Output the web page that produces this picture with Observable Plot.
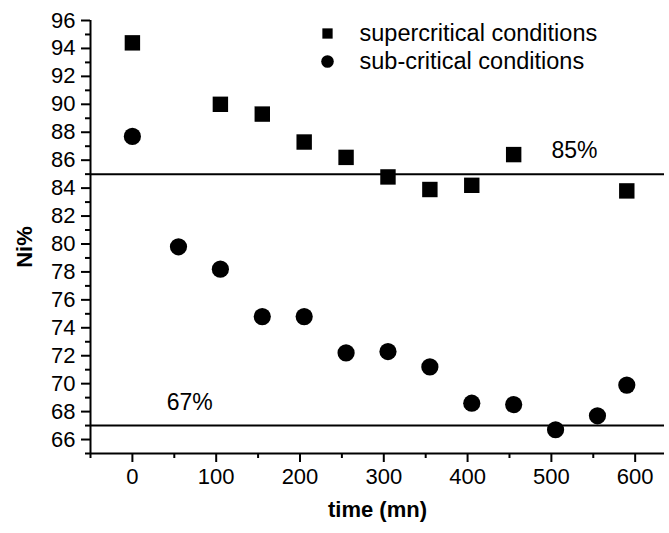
<!DOCTYPE html>
<html><head><meta charset="utf-8">
<script src="https://cdn.jsdelivr.net/npm/d3@7"></script>
<script src="https://cdn.jsdelivr.net/npm/@observablehq/plot@0.6"></script>
<style>body{margin:0;background:#fff}</style>
</head><body><div id="chart"></div>
<script>
const timeSuper = [0, 105, 155, 205, 255, 305, 355, 405, 455, 590];
const niSuper   = [94.4, 90.0, 89.3, 87.3, 86.2, 84.8, 83.9, 84.2, 86.4, 83.8];
const timeSub = [0, 55, 105, 155, 205, 255, 305, 355, 405, 455, 505, 555, 590];
const niSub   = [87.7, 79.8, 78.2, 74.8, 74.8, 72.2, 72.3, 71.2, 68.6, 68.5, 66.7, 67.7, 69.9];
const refLevels = [85, 67];
const refLabels = ["85%", "67%"];
const refLabelTime = [500, 41];
const seriesNames = ["supercritical conditions", "sub-critical conditions"];
const xMajor = [0, 100, 200, 300, 400, 500, 600];
const xMinor = [-50, 50, 150, 250, 350, 450, 550];
const yMajor = [66, 68, 70, 72, 74, 76, 78, 80, 82, 84, 86, 88, 90, 92, 94, 96];
const yMinor = [65, 67, 69, 71, 73, 75, 77, 79, 81, 83, 85, 87, 89, 91, 93, 95];
const xTitle = "time (mn)";
const yTitle = "Ni%";

const superData = timeSuper.map((t, i) => ({t, v: niSuper[i]}));
const subData = timeSub.map((t, i) => ({t, v: niSub[i]}));
const refData = refLevels.map((v, i) => ({v, label: refLabels[i], t: refLabelTime[i]}));

const chart = Plot.plot({
  width: 669, height: 533,
  marginLeft: 90, marginRight: 5, marginTop: 20, marginBottom: 80,
  style: {fontFamily: "'Liberation Sans', Arial, sans-serif", fontSize: "22px", color: "#000", background: "#fff"},
  x: {domain: [-50, 635], axis: null},
  y: {domain: [65, 96], axis: null},
  marks: [
    Plot.axisX(xMajor, {tickSize: 9, tickPadding: 6, strokeWidth: 2, fontSize: 22, label: null}),
    Plot.axisX(xMinor, {tickSize: 5, strokeWidth: 2, tickFormat: () => "", label: null}),
    Plot.axisY(yMajor, {tickSize: 9, tickPadding: 6, strokeWidth: 2, fontSize: 22, label: null}),
    Plot.axisY(yMinor, {tickSize: 5, strokeWidth: 2, tickFormat: () => "", label: null}),
    Plot.ruleY([65], {strokeWidth: 2}),
    Plot.ruleX([-50], {strokeWidth: 2}),
    Plot.ruleY(refData, {y: "v", strokeWidth: 2}),
    Plot.text(refData, {x: "t", y: "v", text: "label", textAnchor: "start", lineAnchor: "bottom", dy: -16, fontSize: 23}),
    Plot.dot(superData, {x: "t", y: "v", symbol: "square", r: 8.7, fill: "#000", stroke: "none"}),
    Plot.dot(subData, {x: "t", y: "v", symbol: "circle", r: 8.6, fill: "#000", stroke: "none"}),
    Plot.dot([seriesNames[0]], {frameAnchor: "top-left", dx: 237, dy: 13, symbol: "square", r: 5.8, fill: "#000", stroke: "none"}),
    Plot.dot([seriesNames[1]], {frameAnchor: "top-left", dx: 237, dy: 41, symbol: "circle", r: 6.3, fill: "#000", stroke: "none"}),
    Plot.text([seriesNames[0]], {text: d => d, frameAnchor: "top-left", dx: 269, dy: 13, textAnchor: "start", lineAnchor: "middle", fontSize: 23.5}),
    Plot.text([seriesNames[1]], {text: d => d, frameAnchor: "top-left", dx: 269, dy: 41, textAnchor: "start", lineAnchor: "middle", fontSize: 23.5}),
    Plot.text([xTitle], {text: d => d, frameAnchor: "bottom", dy: 63, fontWeight: "bold", fontSize: 22}),
    Plot.text([yTitle], {text: d => d, frameAnchor: "left", dx: -66, dy: 10, rotate: -90, textAnchor: "middle", lineAnchor: "middle", fontWeight: "bold", fontSize: 22})
  ]
});
document.getElementById("chart").appendChild(chart);
</script>
</body></html>
